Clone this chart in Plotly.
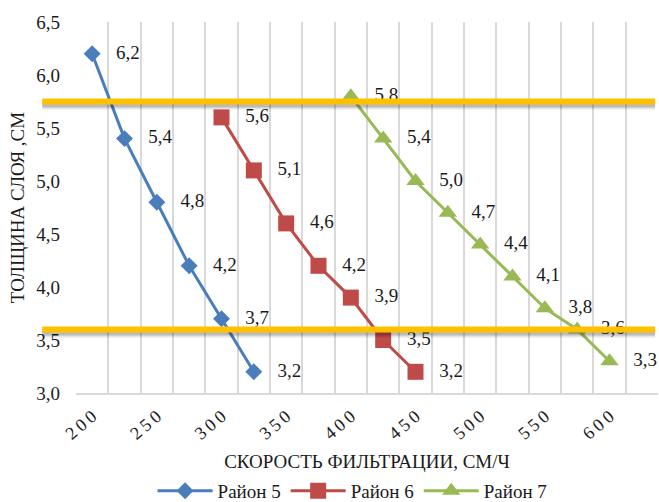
import plotly.graph_objects as go

# Filtration speed (cm/h) vs layer thickness (cm) for three districts
speed_5 = [200, 225, 250, 275, 300, 325]
layer_5 = [6.2, 5.4, 4.8, 4.2, 3.7, 3.2]

speed_6 = [300, 325, 350, 375, 400, 425, 450]
layer_6 = [5.6, 5.1, 4.6, 4.2, 3.9, 3.5, 3.2]

speed_7 = [400, 425, 450, 475, 500, 525, 550, 575, 600]
layer_7 = [5.8, 5.4, 5.0, 4.7, 4.4, 4.1, 3.8, 3.6, 3.3]

series_names = ["Район 5", "Район 6", "Район 7"]
limit_levels = [5.75, 3.6]
x_tick_values = [200, 250, 300, 350, 400, 450, 500, 550, 600]
y_tick_values = [3.0, 3.5, 4.0, 4.5, 5.0, 5.5, 6.0, 6.5]

FONT = "Liberation Serif"
FS = 19
TXT = "#1a1a1a"
colors = ["#4A7EBB", "#BE4B48", "#98B954"]
symbols = ["diamond", "square", "triangle-up"]
sizes = [13, 16, 16]


def fmt(v):
    return f"{v:.1f}".replace(".", ",")


def spaced(n):
    return "\u2009".join(str(n))


fig = go.Figure()

for name, xs, ys, col, sym, sz in zip(
    series_names,
    [speed_5, speed_6, speed_7],
    [layer_5, layer_6, layer_7],
    colors, symbols, sizes,
):
    fig.add_trace(go.Scatter(
        x=xs, y=ys, name=name, mode="lines+markers",
        line=dict(color=col, width=3),
        marker=dict(symbol=sym, size=sz, color=col),
        cliponaxis=False,
    ))

for xs, ys in zip([speed_5, speed_6, speed_7], [layer_5, layer_6, layer_7]):
    fig.add_trace(go.Scatter(
        x=xs, y=ys, mode="text", showlegend=False, hoverinfo="skip",
        text=["\u00a0" * 5 + fmt(v) for v in ys],
        textposition="middle right",
        textfont=dict(family=FONT, size=FS, color=TXT),
        cliponaxis=False,
    ))

# Horizontal limit bands with a soft drop shadow
for lvl in limit_levels:
    for off, w, c in [(-4, 8, "rgba(0,0,0,0.10)"), (-3, 6, "rgba(0,0,0,0.18)")]:
        fig.add_shape(type="line", xref="paper", yref="y",
                      ysizemode="pixel", yanchor=lvl, y0=off, y1=off,
                      x0=-0.058, x1=0.995, line=dict(color=c, width=w),
                      layer="above")
    fig.add_shape(type="line", xref="paper", yref="y", x0=-0.058, x1=0.995,
                  y0=lvl, y1=lvl, line=dict(color="#FFC000", width=6),
                  layer="above")

fig.update_layout(
    width=659, height=502,
    margin=dict(l=76, r=1, t=22, b=109),
    paper_bgcolor="white", plot_bgcolor="white",
    separators=", ",
    font=dict(family=FONT, size=FS, color=TXT),
    showlegend=True,
    legend=dict(orientation="h", xref="container", yref="container",
                x=0.535, xanchor="center", y=0.022, yanchor="middle",
                font=dict(family=FONT, size=FS, color=TXT),
                itemwidth=55, bgcolor="rgba(0,0,0,0)"),
)

fig.update_xaxes(
    range=[187.5, 637.5],
    tickmode="array", tickvals=x_tick_values,
    ticktext=[spaced(v) for v in x_tick_values],
    tickangle=-40, ticks="", showgrid=False, zeroline=False,
    ticklabelstandoff=4,
    minor=dict(tick0=187.5, dtick=25, showgrid=True,
               gridcolor="#D9D9D9", gridwidth=1.5, ticks=""),
    showline=True, linecolor="#D9D9D9", linewidth=2,
    tickfont=dict(family=FONT, size=18, color=TXT),
    title=dict(text="СКОРОСТЬ ФИЛЬТРАЦИИ, СМ/Ч", standoff=12,
               font=dict(family=FONT, size=FS, color=TXT)),
)

fig.update_yaxes(
    range=[3.0, 6.5],
    tickmode="array", tickvals=y_tick_values,
    tickformat=".1f", ticks="", showgrid=False, zeroline=False,
    showline=False, ticklabelstandoff=15,
    tickfont=dict(family=FONT, size=FS, color=TXT),
    title=dict(text="ТОЛЩИНА СЛОЯ ,СМ", standoff=6,
               font=dict(family=FONT, size=FS, color=TXT)),
)

fig.write_html("out.html")
